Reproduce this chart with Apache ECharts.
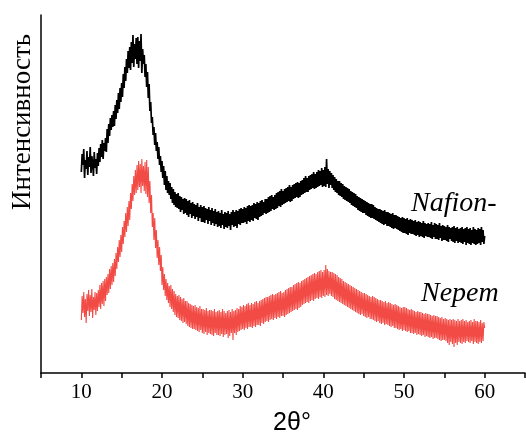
<!DOCTYPE html>
<html>
<head>
<meta charset="utf-8">
<script src="https://cdn.jsdelivr.net/npm/echarts@6/dist/echarts.min.js"></script>
<style>
  html, body { margin: 0; padding: 0; background: #fff; }
  #chart { width: 526px; height: 437px; }
</style>
</head>
<body>
<div id="chart"></div>
<script>
// Diffraction angle grid: 10°..60° in 0.1° steps
const angleStart = 10;
const angleStep = 0.1;

// Intensity (a.u.) of the Nafion sample, one row per degree (10 readings each)
const nafion = [
  201, 219, 208, 224, 195, 213, 204, 222, 198, 216,
  206, 226, 200, 217, 210, 197, 221, 205, 214, 199,
  220, 207, 225, 211, 229, 216, 233, 214, 230, 222,
  235, 221, 244, 230, 249, 237, 255, 243, 258, 246,
  262, 247, 268, 254, 273, 260, 280, 264, 285, 271,
  290, 276, 299, 285, 306, 292, 314, 300, 322, 305,
  326, 303, 331, 310, 338, 306, 329, 314, 335, 309,
  336, 305, 332, 312, 339, 300, 324, 309, 318, 296,
  309, 286, 301, 275, 289, 262, 271, 250, 256, 238,
  246, 228, 240, 222, 231, 214, 226, 208, 217, 201,
  212, 195, 207, 188, 202, 183, 197, 180, 192, 178,
  190, 174, 186, 170, 184, 168, 181, 166, 179, 165,
  180, 164, 177, 161, 176, 163, 174, 159, 175, 160,
  174, 158, 172, 156, 173, 159, 170, 155, 171, 157,
  169, 154, 168, 156, 170, 152, 166, 155, 168, 151,
  166, 151, 167, 150, 165, 153, 164, 149, 166, 152,
  163, 148, 165, 150, 162, 147, 164, 149, 161, 146,
  162, 147, 160, 145, 163, 148, 159, 144, 161, 146,
  160, 145, 162, 147, 159, 143, 161, 148, 163, 146,
  161, 147, 163, 145, 162, 149, 164, 148, 165, 150,
  164, 150, 166, 151, 165, 149, 167, 152, 168, 151,
  167, 153, 168, 152, 170, 155, 169, 154, 171, 153,
  170, 156, 172, 157, 173, 158, 171, 160, 174, 159,
  174, 160, 176, 161, 177, 162, 178, 164, 176, 163,
  178, 164, 180, 165, 181, 167, 182, 166, 184, 168,
  182, 169, 184, 170, 185, 171, 186, 172, 188, 171,
  186, 172, 188, 174, 189, 175, 190, 176, 191, 175,
  190, 176, 192, 178, 193, 179, 195, 180, 197, 181,
  195, 181, 197, 183, 198, 184, 199, 185, 201, 184,
  199, 185, 201, 186, 203, 187, 202, 188, 205, 186,
  203, 187, 206, 186, 214, 189, 204, 185, 202, 188,
  200, 185, 198, 183, 196, 181, 194, 180, 192, 178,
  192, 177, 190, 176, 189, 174, 187, 173, 186, 172,
  185, 171, 184, 170, 182, 168, 181, 167, 180, 166,
  179, 165, 177, 163, 176, 162, 175, 161, 174, 160,
  173, 160, 172, 158, 171, 157, 170, 156, 169, 155,
  169, 155, 168, 154, 166, 153, 165, 152, 164, 151,
  164, 150, 163, 149, 162, 148, 163, 149, 161, 147,
  161, 147, 160, 146, 159, 145, 160, 144, 158, 145,
  158, 144, 157, 143, 156, 142, 155, 141, 156, 140,
  155, 140, 154, 139, 155, 138, 153, 140, 154, 139,
  153, 139, 152, 138, 153, 137, 151, 138, 152, 136,
  151, 137, 150, 136, 152, 135, 150, 137, 149, 136,
  150, 136, 149, 135, 151, 134, 148, 136, 150, 134,
  149, 134, 148, 133, 150, 135, 147, 132, 148, 133,
  147, 133, 146, 132, 148, 131, 146, 134, 145, 132,
  146, 131, 147, 130, 145, 132, 146, 130, 144, 131,
  145, 130, 146, 129, 144, 131, 145, 128, 146, 130,
  144, 129, 145, 128, 143, 130, 146, 129, 144, 128,
  143, 129, 145, 130, 144, 128, 146, 131, 143, 129,
  137
];

// Intensity (a.u.) of the Nepem sample, same angle grid
const nepem = [
  53, 77, 60, 81, 56, 74, 50, 79, 62, 83,
  57, 78, 61, 84, 55, 76, 63, 81, 58, 80,
  62, 83, 66, 88, 64, 90, 69, 92, 67, 94,
  72, 96, 78, 99, 80, 104, 84, 107, 88, 110,
  91, 114, 97, 120, 104, 126, 111, 133, 116, 138,
  121, 146, 129, 152, 136, 160, 141, 166, 147, 172,
  153, 180, 164, 189, 172, 197, 178, 203, 180, 208,
  183, 212, 186, 209, 180, 214, 187, 207, 182, 211,
  179, 213, 176, 206, 170, 192, 160, 178, 146, 160,
  133, 155, 125, 143, 115, 133, 108, 126, 102, 118,
  88, 106, 83, 99, 77, 94, 73, 90, 70, 87,
  66, 88, 64, 84, 61, 82, 58, 79, 56, 77,
  55, 78, 53, 76, 52, 74, 50, 75, 51, 72,
  49, 72, 47, 70, 46, 69, 45, 68, 44, 67,
  44, 68, 43, 66, 42, 65, 41, 67, 43, 64,
  40, 64, 39, 63, 41, 65, 38, 62, 40, 63,
  39, 63, 38, 62, 37, 64, 40, 61, 38, 62,
  38, 63, 37, 61, 39, 64, 36, 62, 38, 60,
  39, 62, 35, 63, 37, 61, 40, 64, 33, 62,
  40, 63, 38, 65, 41, 64, 42, 67, 43, 66,
  44, 68, 43, 67, 45, 69, 44, 70, 46, 68,
  46, 70, 45, 69, 47, 71, 46, 72, 48, 70,
  48, 72, 47, 73, 50, 74, 49, 75, 51, 76,
  52, 76, 51, 77, 53, 78, 54, 79, 53, 78,
  55, 79, 54, 80, 56, 81, 55, 82, 57, 80,
  57, 81, 56, 83, 58, 84, 59, 85, 60, 86,
  61, 86, 62, 88, 63, 89, 64, 90, 63, 91,
  65, 90, 66, 92, 68, 93, 69, 94, 70, 95,
  71, 96, 70, 97, 72, 98, 73, 99, 72, 100,
  74, 99, 75, 101, 74, 102, 76, 103, 75, 101,
  77, 103, 76, 108, 78, 104, 77, 102, 79, 101,
  77, 101, 76, 100, 74, 99, 73, 98, 72, 96,
  71, 95, 70, 94, 69, 92, 68, 91, 67, 90,
  66, 89, 65, 88, 64, 87, 63, 86, 62, 85,
  61, 84, 60, 83, 59, 82, 58, 81, 59, 80,
  57, 80, 56, 79, 55, 78, 56, 77, 54, 76,
  54, 77, 53, 76, 52, 75, 51, 74, 52, 73,
  50, 73, 49, 72, 50, 71, 48, 72, 49, 70,
  48, 71, 47, 70, 46, 69, 47, 68, 45, 69,
  45, 68, 44, 67, 43, 66, 44, 65, 42, 66,
  43, 66, 42, 65, 41, 64, 42, 63, 40, 64,
  40, 63, 39, 62, 40, 61, 38, 62, 39, 61,
  38, 61, 37, 60, 38, 59, 36, 60, 37, 59,
  36, 59, 35, 58, 36, 57, 34, 58, 35, 57,
  35, 57, 34, 56, 33, 55, 32, 56, 33, 54,
  33, 55, 32, 54, 30, 53, 28, 54, 31, 53,
  29, 54, 26, 53, 30, 52, 28, 54, 31, 52,
  30, 53, 29, 54, 31, 52, 30, 53, 32, 51,
  31, 52, 30, 53, 32, 51, 29, 54, 31, 52,
  30, 52, 29, 51, 31, 53, 30, 50, 32, 51,
  45
];

// Axis ranges
const xMin = 5, xMax = 65, xInterval = 5;
const yMin = 0, yMax = 358;

function toPairs(values) {
  return values.map((v, i) => [+(angleStart + i * angleStep).toFixed(1), v]);
}

const chart = echarts.init(document.getElementById('chart'), null, { renderer: 'canvas' });

chart.setOption({
  animation: false,
  backgroundColor: '#fff',
  grid: { left: 41, right: 1, top: 15, bottom: 64, containLabel: false, outerBoundsMode: 'none' },
  xAxis: {
    type: 'value',
    min: xMin,
    max: xMax,
    interval: xInterval,
    axisLine: { lineStyle: { color: '#000', width: 1.5 } },
    axisTick: { length: 5, lineStyle: { color: '#000', width: 1.5 } },
    splitLine: { show: false },
    axisLabel: {
      color: '#000',
      fontFamily: 'Liberation Serif',
      fontSize: 21,
      margin: 9,
      formatter: v => (v % 10 === 0 && v > xMin && v < xMax) ? String(v) : ''
    },
    name: '2θ°',
    nameLocation: 'middle',
    nameGap: 38,
    nameTextStyle: {
      color: '#000',
      fontFamily: 'Liberation Sans',
      fontSize: 25,
      padding: [0, 0, 0, 18]
    }
  },
  yAxis: {
    type: 'value',
    min: yMin,
    max: yMax,
    axisLine: { show: true, lineStyle: { color: '#000', width: 1.5 } },
    axisTick: { show: false },
    axisLabel: { show: false },
    splitLine: { show: false }
  },
  graphic: [
    {
      type: 'text',
      x: 23, y: 122,
      rotation: Math.PI / 2,
      style: {
        text: 'Интенсивность',
        font: '27px "Liberation Serif"',
        fill: '#000',
        textAlign: 'center',
        textVerticalAlign: 'middle'
      }
    },
    {
      type: 'text',
      x: 411, y: 218,
      style: {
        text: 'Nafion-',
        font: 'italic 28px "Liberation Serif"',
        fill: '#000',
        textAlign: 'left',
        textVerticalAlign: 'bottom'
      }
    },
    {
      type: 'text',
      x: 421, y: 308,
      style: {
        text: 'Nepem',
        font: 'italic 28px "Liberation Serif"',
        fill: '#000',
        textAlign: 'left',
        textVerticalAlign: 'bottom'
      }
    }
  ],
  series: [
    {
      name: 'Nafion-',
      type: 'line',
      data: toPairs(nafion),
      showSymbol: false,
      lineStyle: { color: '#000', width: 1.7 },
      z: 3
    },
    {
      name: 'Nepem',
      type: 'line',
      data: toPairs(nepem),
      showSymbol: false,
      lineStyle: { color: '#f24a44', width: 1.1 },
      z: 2
    }
  ]
});
</script>
</body>
</html>
